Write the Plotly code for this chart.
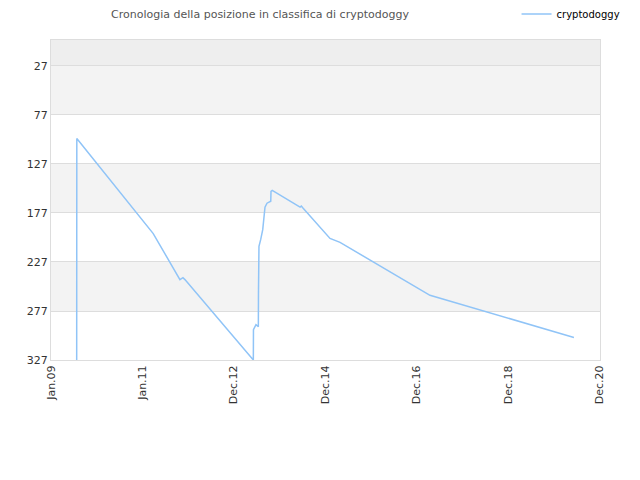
import plotly.graph_objects as go

# rank history of cryptodoggy
dates = [
    "2009-07-25", "2009-07-26", "2011-03-28", "2011-10-27", "2011-11-20",
    "2011-12-06", "2013-06-04", "2013-06-05", "2013-06-25", "2013-07-14",
    "2013-07-15", "2013-07-19", "2013-08-02", "2013-08-18", "2013-09-05",
    "2013-09-21", "2013-10-21", "2013-10-23", "2013-11-02", "2014-06-12",
    "2014-06-22", "2014-07-05", "2015-02-06", "2015-04-27", "2017-04-14",
    "2020-06-06",
]
ranks = [
    327, 101, 198, 245, 243,
    245, 327, 296, 291, 293,
    259, 211, 204, 194, 171,
    167, 165, 155, 154, 171,
    170, 172, 203, 207, 261,
    304,
]

y_ticks = [27, 77, 127, 177, 227, 277, 327]
x_ticks = ["2009-01-01", "2011-01-01", "2012-12-31", "2014-12-31",
           "2016-12-30", "2018-12-30", "2020-12-30"]
x_labels = ["Jan.09", "Jan.11", "Dec.12", "Dec.14", "Dec.16", "Dec.18", "Dec.20"]

fig = go.Figure()
fig.add_trace(go.Scatter(
    x=dates, y=ranks, mode="lines", name="cryptodoggy",
    line=dict(color="#90c4f7", width=1.5),
))

# alternating grey bands
shapes = [dict(type="rect", xref="paper", yref="y", x0=0, x1=1, y0=0, y1=y_ticks[0],
               fillcolor="#eeeeee", line_width=0, layer="below")]
for i in range(0, len(y_ticks) - 1, 2):
    shapes.append(dict(type="rect", xref="paper", yref="y", x0=0, x1=1,
                       y0=y_ticks[i], y1=y_ticks[i + 1],
                       fillcolor="#f3f3f3", line_width=0, layer="below"))

# page body has an 8px margin, so the figure is drawn a bit smaller
fig.update_layout(
    width=632, height=472,
    margin=dict(l=43, r=40, t=32, b=120, autoexpand=False),
    paper_bgcolor="white", plot_bgcolor="white",
    font=dict(family="DejaVu Sans", size=11, color="#333333"),
    title=dict(text="Cronologia della posizione in classifica di cryptodoggy",
               x=252 / 632, xanchor="center", y=1 - 6 / 472, yanchor="middle",
               font=dict(size=11, color="#555555")),
    showlegend=True,
    legend=dict(x=0.848, xanchor="left", y=1.081, yanchor="middle",
                bgcolor="rgba(0,0,0,0)", font=dict(size=10, color="#000000")),
    shapes=shapes,
)
fig.update_xaxes(
    type="date", range=["2009-01-01", "2020-12-31"],
    tickvals=x_ticks, ticktext=x_labels, tickangle=-90,
    showgrid=False, showline=True, linecolor="#dddddd", mirror=True,
    ticks="", zeroline=False,
)
fig.update_yaxes(
    range=[327, 0.5], tickvals=y_ticks,
    showgrid=True, gridcolor="#dddddd", showline=True, linecolor="#dddddd",
    mirror=True, ticks="", zeroline=False,
)

fig.write_html("out.html")
